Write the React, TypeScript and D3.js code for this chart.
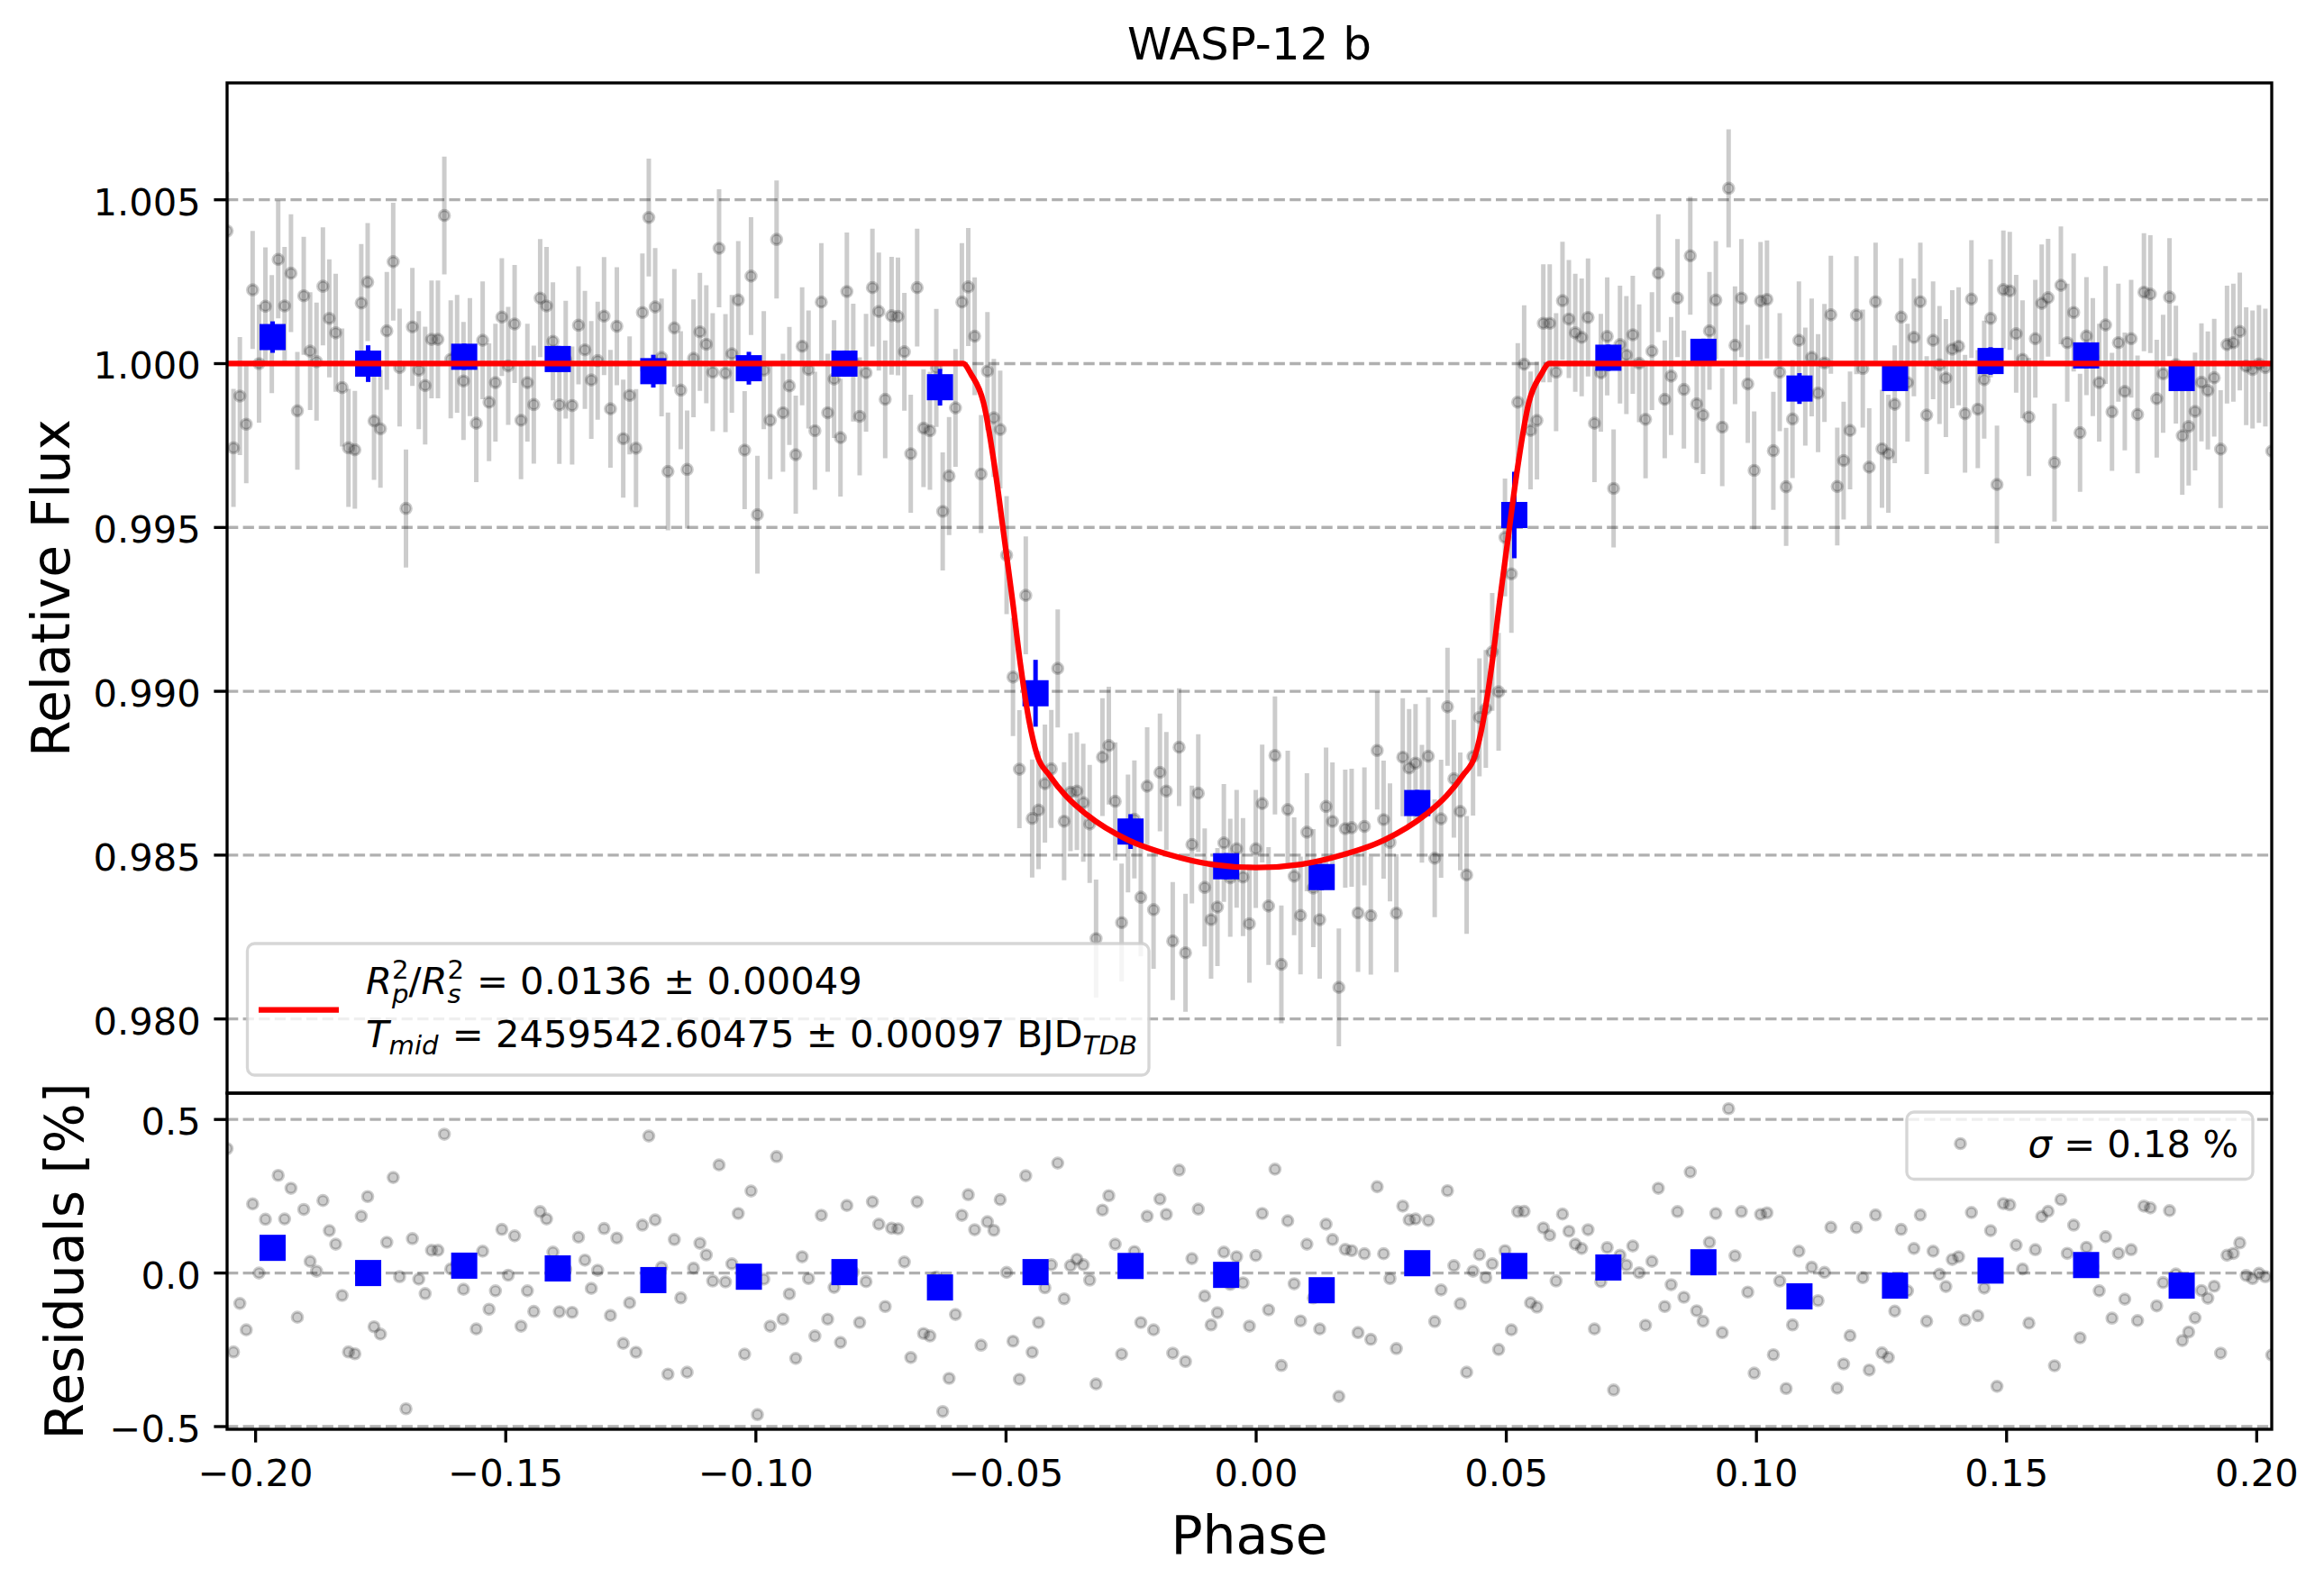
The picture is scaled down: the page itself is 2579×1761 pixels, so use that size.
import React, { useEffect, useRef } from 'react';
import * as d3 from 'd3';

// phase grid of the gray points (first and last sit on the spines)
const PHASE_START = -0.2057;
const PHASE_END = 0.2030;

// residuals of the unbinned points, in %
const RESID = [
    0.405, -0.257, -0.099, -0.185, 0.225, 0.0, 0.175, 0.09, 0.318, 0.176,
    0.276, -0.144, 0.207, 0.038, 0.006, 0.236, 0.138, 0.094, -0.073, -0.257,
    -0.263, 0.185, 0.249, -0.175, -0.199, 0.1, 0.311, -0.012, -0.442, 0.112,
    -0.02, -0.067, 0.074, 0.074, 0.452, 0.013, 0.03, -0.053, 0.02, -0.182,
    0.071, -0.118, -0.058, 0.142, -0.007, 0.121, -0.173, -0.058, -0.125, 0.2,
    0.176, 0.068, -0.126, 0.012, -0.128, 0.117, 0.042, -0.05, 0.009, 0.145,
    -0.138, 0.114, -0.229, -0.097, -0.258, 0.156, 0.446, 0.173, 0.019, -0.329,
    0.109, -0.081, -0.323, 0.016, 0.097, 0.059, -0.026, 0.352, -0.029, 0.03,
    0.194, -0.264, 0.267, -0.461, -0.02, -0.173, 0.379, -0.15, -0.068, -0.278,
    0.053, -0.018, -0.205, 0.188, -0.15, -0.047, -0.226, 0.22, 0.003, -0.161,
    -0.028, 0.232, 0.159, -0.109, 0.146, 0.144, 0.036, -0.275, 0.232, -0.197,
    -0.205, -0.013, -0.451, -0.343, -0.135, 0.188,
    0.255, 0.141, -0.235, 0.167, 0.139, 0.239, 0.002, -0.222, -0.346, 0.317,
    -0.258, -0.161, -0.048, 0.027, 0.358, -0.084, 0.024, 0.045, 0.027, -0.023,
    -0.361, 0.205, 0.252, 0.094, -0.264, 0.02, 0.07, -0.161, 0.185, -0.185,
    0.241, 0.191, -0.261, 0.335, -0.288, 0.047, 0.208, -0.075, -0.169, -0.129,
    0.068, -0.037, 0.053, -0.032, -0.173, 0.057, 0.194, -0.12, 0.338, -0.301,
    0.17, -0.035, -0.156, 0.094, -0.081, -0.182, 0.159, 0.109, -0.402, 0.077,
    0.073, -0.194, 0.063, -0.216, 0.281,
    0.063, -0.018, -0.246, 0.218, 0.173, 0.176, 0.04, 0.171, -0.158, -0.055,
    0.268, 0.024, -0.1, -0.323, 0.006, 0.06, -0.015, 0.03, -0.249, 0.073,
    -0.185, 0.2, 0.201, -0.097, -0.111, 0.147, 0.123, -0.026, 0.192, 0.136,
    0.094, 0.08, 0.141, -0.182, -0.028, 0.083, -0.381, 0.058, 0.026, 0.088,
    0.001, -0.17, 0.038, 0.276, -0.109, -0.038, 0.2, -0.079, 0.329, -0.123,
    -0.157, 0.1, 0.194, -0.194, 0.535, 0.056, 0.2, -0.062, -0.326, 0.191,
    0.196, -0.266, -0.026, -0.376, -0.169, 0.071,
    -0.07, 0.019, -0.09, 0.002, 0.149, -0.375, -0.296, -0.204, 0.148, -0.015,
    -0.316, 0.189, -0.26, -0.275, -0.124, 0.142, -0.058, 0.08, 0.189, -0.157,
    0.071, -0.004, -0.044, 0.044, 0.053, -0.153, 0.197, -0.139, -0.049, 0.138,
    -0.369, 0.226, 0.222, 0.091, 0.013, -0.163, 0.076, 0.184, 0.201, -0.302,
    0.239, 0.064, 0.156, -0.211, 0.084, 0.02, -0.058, 0.118, -0.147, 0.064,
    -0.085, 0.076, -0.155, 0.218, 0.212, -0.107, -0.031, 0.203, -0.003, -0.22,
    -0.192, -0.146, -0.057, -0.082, -0.043, -0.261, 0.058, 0.064, 0.098, -0.008,
    -0.018, -0.001, -0.012, -0.267,
];
const FLUX_ERR = 0.0018;

// transit model
const MODEL_PHASE = [
    -0.2057, -0.0586, -0.0570, -0.0545, -0.0520, -0.0504, -0.0487, -0.0471, -0.0454, -0.0438,
    -0.0413, -0.0380, -0.0339, -0.0256, -0.0173, -0.0090, 0.0,
    0.0090, 0.0173, 0.0256, 0.0339, 0.0380, 0.0413, 0.0438, 0.0454, 0.0471,
    0.0487, 0.0504, 0.0520, 0.0545, 0.0570, 0.0586, 0.2030,
];
const MODEL_FLUX = [
    1.0, 1.0, 0.99968, 0.99881, 0.99656, 0.99473, 0.99277, 0.9908, 0.98911, 0.98806,
    0.98743, 0.9868, 0.98624, 0.98546, 0.98501, 0.98472, 0.98462,
    0.98472, 0.98501, 0.98546, 0.98624, 0.9868, 0.98743, 0.98806, 0.98911, 0.9908,
    0.99277, 0.99473, 0.99656, 0.99881, 0.99968, 1.0, 1.0,
];

// binned points
const BIN_PHASE = [
    -0.1966, -0.1775, -0.1583, -0.1396, -0.1205, -0.1014, -0.0823, -0.0632, -0.0441, -0.0251,
    -0.0060, 0.0131, 0.0322, 0.0516, 0.0704, 0.0894, 0.1086, 0.1277, 0.1468, 0.1659, 0.1850,
];
const BIN_FLUX = [
    1.00081, 1.0, 1.00021, 1.00014, 0.99977, 0.99986, 1.0, 0.99928, 0.98994, 0.98572,
    0.98466, 0.98433, 0.98659, 0.99538, 1.00018, 1.00036, 0.99924, 0.99956, 1.00008, 1.00025, 0.99956,
];
const BIN_ERR = [
    0.00048, 0.00056, 0.0004, 0.0004, 0.0005, 0.0005, 0.0004, 0.00056, 0.00102, 0.00053,
    0.0004, 0.0004, 0.0004, 0.00132, 0.0004, 0.0004, 0.00047, 0.0004, 0.00042, 0.0004, 0.0004,
];
const BIN_RES = [
    0.082, 0.0, 0.024, 0.015, -0.023, -0.012, 0.003, -0.047, 0.003, 0.023,
    -0.006, -0.056, 0.032, 0.023, 0.018, 0.035, -0.076, -0.041, 0.008, 0.026, -0.041,
];

const TOP_TICKS = [0.980, 0.985, 0.990, 0.995, 1.000, 1.005];
const RES_TICKS = [-0.5, 0.0, 0.5];
const X_TICKS = [-0.20, -0.15, -0.10, -0.05, 0.00, 0.05, 0.10, 0.15, 0.20];

const FONT = '"DejaVu Sans", sans-serif';

export default function App() {
    const svgRef = useRef<SVGSVGElement>(null);

    useEffect(() => {
        if (!svgRef.current) return;
        const width = 2579;
        const height = 1761;
        const left = 252, right = 2521;
        const top1 = 92, bot1 = 1213, top2 = 1213, bot2 = 1586;
        const tickFs = 41.7, labelFs = 58.3, titleFs = 50, legFs = 41.7;
        const lw = 3.33, tickLen = 14.6;

        const svg = d3.select(svgRef.current);
        svg.selectAll('*').remove();
        svg.attr('width', width).attr('height', height).attr('viewBox', `0 0 ${width} ${height}`);

        svg.append('rect').attr('width', width).attr('height', height).attr('fill', '#ffffff');

        const x = d3.scaleLinear().domain([PHASE_START, PHASE_END]).range([left, right]);
        const yTop = d3.scaleLinear().domain([0.977736, 1.008567]).range([bot1, top1]);
        const yRes = d3.scaleLinear().domain([-0.5088, 0.5857]).range([bot2, top2]);
        const modelAt = d3.scaleLinear().domain(MODEL_PHASE).range(MODEL_FLUX);

        const n = RESID.length;
        const phases = d3.range(n).map(i => PHASE_START + (i * (PHASE_END - PHASE_START)) / (n - 1));
        const flux = phases.map((p, i) => modelAt(p) + RESID[i] / 100);

        const defs = svg.append('defs');
        defs.append('clipPath').attr('id', 'clip-top')
            .append('rect').attr('x', left).attr('y', top1).attr('width', right - left).attr('height', bot1 - top1);
        defs.append('clipPath').attr('id', 'clip-bot')
            .append('rect').attr('x', left).attr('y', top2).attr('width', right - left).attr('height', bot2 - top2);

        const gridStyle = (sel: any) => sel
            .attr('stroke', '#b0b0b0')
            .attr('stroke-width', lw)
            .attr('stroke-dasharray', '12.3 5.3');

        // ---------- top panel ----------
        const gTop = svg.append('g').attr('clip-path', 'url(#clip-top)');
        gTop.selectAll('.grid').data(TOP_TICKS).enter().append('line')
            .attr('x1', left).attr('x2', right)
            .attr('y1', d => yTop(d)).attr('y2', d => yTop(d))
            .call(gridStyle);

        gTop.selectAll('.ebar').data(phases).enter().append('line')
            .attr('x1', d => x(d)).attr('x2', d => x(d))
            .attr('y1', (d, i) => yTop(flux[i] - FLUX_ERR))
            .attr('y2', (d, i) => yTop(flux[i] + FLUX_ERR))
            .attr('stroke', '#000').attr('stroke-opacity', 0.2).attr('stroke-width', 5);

        gTop.selectAll('.pt').data(phases).enter().append('circle')
            .attr('cx', d => x(d)).attr('cy', (d, i) => yTop(flux[i]))
            .attr('r', 5.67)
            .attr('fill', '#000').attr('fill-opacity', 0.2)
            .attr('stroke', '#000').attr('stroke-opacity', 0.2).attr('stroke-width', 3.35);

        gTop.selectAll('.bbar').data(BIN_PHASE).enter().append('line')
            .attr('x1', d => x(d)).attr('x2', d => x(d))
            .attr('y1', (d, i) => yTop(BIN_FLUX[i] - BIN_ERR[i]))
            .attr('y2', (d, i) => yTop(BIN_FLUX[i] + BIN_ERR[i]))
            .attr('stroke', '#0000ff').attr('stroke-width', 5);

        gTop.selectAll('.bsq').data(BIN_PHASE).enter().append('rect')
            .attr('x', d => x(d) - 14.5).attr('y', (d, i) => yTop(BIN_FLUX[i]) - 14.5)
            .attr('width', 29).attr('height', 29)
            .attr('fill', '#0000ff');

        const modelLine = d3.line<number>()
            .x(d => x(d))
            .y((d, i) => yTop(MODEL_FLUX[i]))
            .curve(d3.curveMonotoneX);
        gTop.append('path')
            .attr('d', modelLine(MODEL_PHASE))
            .attr('fill', 'none')
            .attr('stroke', '#ff0000')
            .attr('stroke-width', 6.25)
            .attr('stroke-linejoin', 'round');

        // ---------- bottom panel ----------
        const gBot = svg.append('g').attr('clip-path', 'url(#clip-bot)');
        gBot.selectAll('.grid').data(RES_TICKS).enter().append('line')
            .attr('x1', left).attr('x2', right)
            .attr('y1', d => yRes(d)).attr('y2', d => yRes(d))
            .call(gridStyle);

        gBot.selectAll('.pt').data(phases).enter().append('circle')
            .attr('cx', d => x(d)).attr('cy', (d, i) => yRes(RESID[i]))
            .attr('r', 5.67)
            .attr('fill', '#000').attr('fill-opacity', 0.2)
            .attr('stroke', '#000').attr('stroke-opacity', 0.2).attr('stroke-width', 3.35);

        gBot.selectAll('.bsq').data(BIN_PHASE).enter().append('rect')
            .attr('x', d => x(d) - 14.5).attr('y', (d, i) => yRes(BIN_RES[i]) - 14.5)
            .attr('width', 29).attr('height', 29)
            .attr('fill', '#0000ff');

        // ---------- spines & ticks ----------
        const frame = svg.append('g').attr('fill', 'none').attr('stroke', '#000').attr('stroke-width', lw);
        frame.append('rect').attr('x', left).attr('y', top1).attr('width', right - left).attr('height', bot1 - top1);
        frame.append('rect').attr('x', left).attr('y', top2).attr('width', right - left).attr('height', bot2 - top2);

        const fmtTop = d3.format('.3f');
        const fmtRes = d3.format('.1f');
        const fmtX = d3.format('.2f');

        const yAxisTicks = (ticks: number[], scale: any, fmt: any) => {
            const g = svg.append('g');
            ticks.forEach(t => {
                g.append('line')
                    .attr('x1', left - tickLen).attr('x2', left)
                    .attr('y1', scale(t)).attr('y2', scale(t))
                    .attr('stroke', '#000').attr('stroke-width', lw);
                g.append('text')
                    .attr('x', left - tickLen - 14.6)
                    .attr('y', scale(t) + 17)
                    .attr('text-anchor', 'end')
                    .style('font-family', FONT)
                    .style('font-size', `${tickFs}px`)
                    .attr('fill', '#000')
                    .text(fmt(t));
            });
        };
        yAxisTicks(TOP_TICKS, yTop, fmtTop);
        yAxisTicks(RES_TICKS, yRes, fmtRes);

        const xg = svg.append('g');
        X_TICKS.forEach(t => {
            xg.append('line')
                .attr('x1', x(t)).attr('x2', x(t))
                .attr('y1', bot2).attr('y2', bot2 + tickLen)
                .attr('stroke', '#000').attr('stroke-width', lw);
            xg.append('text')
                .attr('x', x(t))
                .attr('y', 1649)
                .attr('text-anchor', 'middle')
                .style('font-family', FONT)
                .style('font-size', `${tickFs}px`)
                .attr('fill', '#000')
                .text(fmtX(t));
        });

        // ---------- labels ----------
        svg.append('text')
            .attr('x', (left + right) / 2).attr('y', 66)
            .attr('text-anchor', 'middle')
            .style('font-family', FONT).style('font-size', `${titleFs}px`)
            .text('WASP-12 b');

        svg.append('text')
            .attr('transform', `translate(77,${(top1 + bot1) / 2}) rotate(-90)`)
            .attr('text-anchor', 'middle')
            .style('font-family', FONT).style('font-size', `${labelFs}px`)
            .text('Relative Flux');

        svg.append('text')
            .attr('transform', `translate(92,${(top2 + bot2) / 2}) rotate(-90)`)
            .attr('text-anchor', 'middle')
            .style('font-family', FONT).style('font-size', `${labelFs}px`)
            .text('Residuals [%]');

        svg.append('text')
            .attr('x', (left + right) / 2).attr('y', 1724)
            .attr('text-anchor', 'middle')
            .style('font-family', FONT).style('font-size', `${labelFs}px`)
            .text('Phase');

        // ---------- legends ----------
        const legendBox = (x0: number, y0: number, w: number, h: number) => {
            svg.append('rect')
                .attr('x', x0).attr('y', y0).attr('width', w).attr('height', h)
                .attr('rx', 8).attr('ry', 8)
                .attr('fill', '#ffffff').attr('fill-opacity', 0.8)
                .attr('stroke', '#cccccc').attr('stroke-opacity', 0.8)
                .attr('stroke-width', lw);
        };

        legendBox(274.5, 1047, 1000.5, 146);
        svg.append('line')
            .attr('x1', 287).attr('x2', 376)
            .attr('y1', 1120.7).attr('y2', 1120.7)
            .attr('stroke', '#ff0000').attr('stroke-width', 6.25);

        const subFs = legFs * 0.7;
        const t1 = svg.append('text')
            .attr('x', 406).attr('y', 1103)
            .style('font-family', FONT).style('font-size', `${legFs}px`)
            .style('white-space', 'pre');
        t1.append('tspan').attr('font-style', 'italic').text('R');
        t1.append('tspan').style('font-size', `${subFs}px`).attr('dy', -17).text('2');
        t1.append('tspan').style('font-size', `${subFs}px`).attr('font-style', 'italic').attr('dx', -18.6).attr('dy', 27).text('p');
        t1.append('tspan').attr('dy', -10).text('/');
        t1.append('tspan').attr('font-style', 'italic').text('R');
        t1.append('tspan').style('font-size', `${subFs}px`).attr('dy', -17).text('2');
        t1.append('tspan').style('font-size', `${subFs}px`).attr('font-style', 'italic').attr('dx', -18.6).attr('dy', 27).text('s');
        t1.append('tspan').attr('dy', -10).attr('dx', 4).text(' = 0.0136 ± 0.00049');

        const t2 = svg.append('text')
            .attr('x', 406).attr('y', 1162)
            .style('font-family', FONT).style('font-size', `${legFs}px`)
            .style('white-space', 'pre');
        t2.append('tspan').attr('font-style', 'italic').text('T');
        t2.append('tspan').style('font-size', `${subFs}px`).attr('font-style', 'italic').attr('dy', 8).text('mid');
        t2.append('tspan').attr('dy', -8).attr('dx', 2).text(' = 2459542.60475 ± 0.00097 BJD');
        t2.append('tspan').style('font-size', `${subFs}px`).attr('font-style', 'italic').attr('dy', 8).text('TDB');

        legendBox(2116, 1234, 384, 74.5);
        svg.append('circle')
            .attr('cx', 2175.5).attr('cy', 1269).attr('r', 5.67)
            .attr('fill', '#000').attr('fill-opacity', 0.2)
            .attr('stroke', '#000').attr('stroke-opacity', 0.2).attr('stroke-width', 3.35);
        const t3 = svg.append('text')
            .attr('x', 2484).attr('y', 1283.5)
            .attr('text-anchor', 'end')
            .style('font-family', FONT).style('font-size', `${legFs}px`)
            .style('white-space', 'pre');
        t3.append('tspan').attr('font-style', 'italic').text('σ');
        t3.append('tspan').text(' = 0.18 %');
    }, []);

    return (
        <svg
            ref={svgRef}
            style={{ position: 'absolute', left: 0, top: 0, display: 'block' }}
        />
    );
}
